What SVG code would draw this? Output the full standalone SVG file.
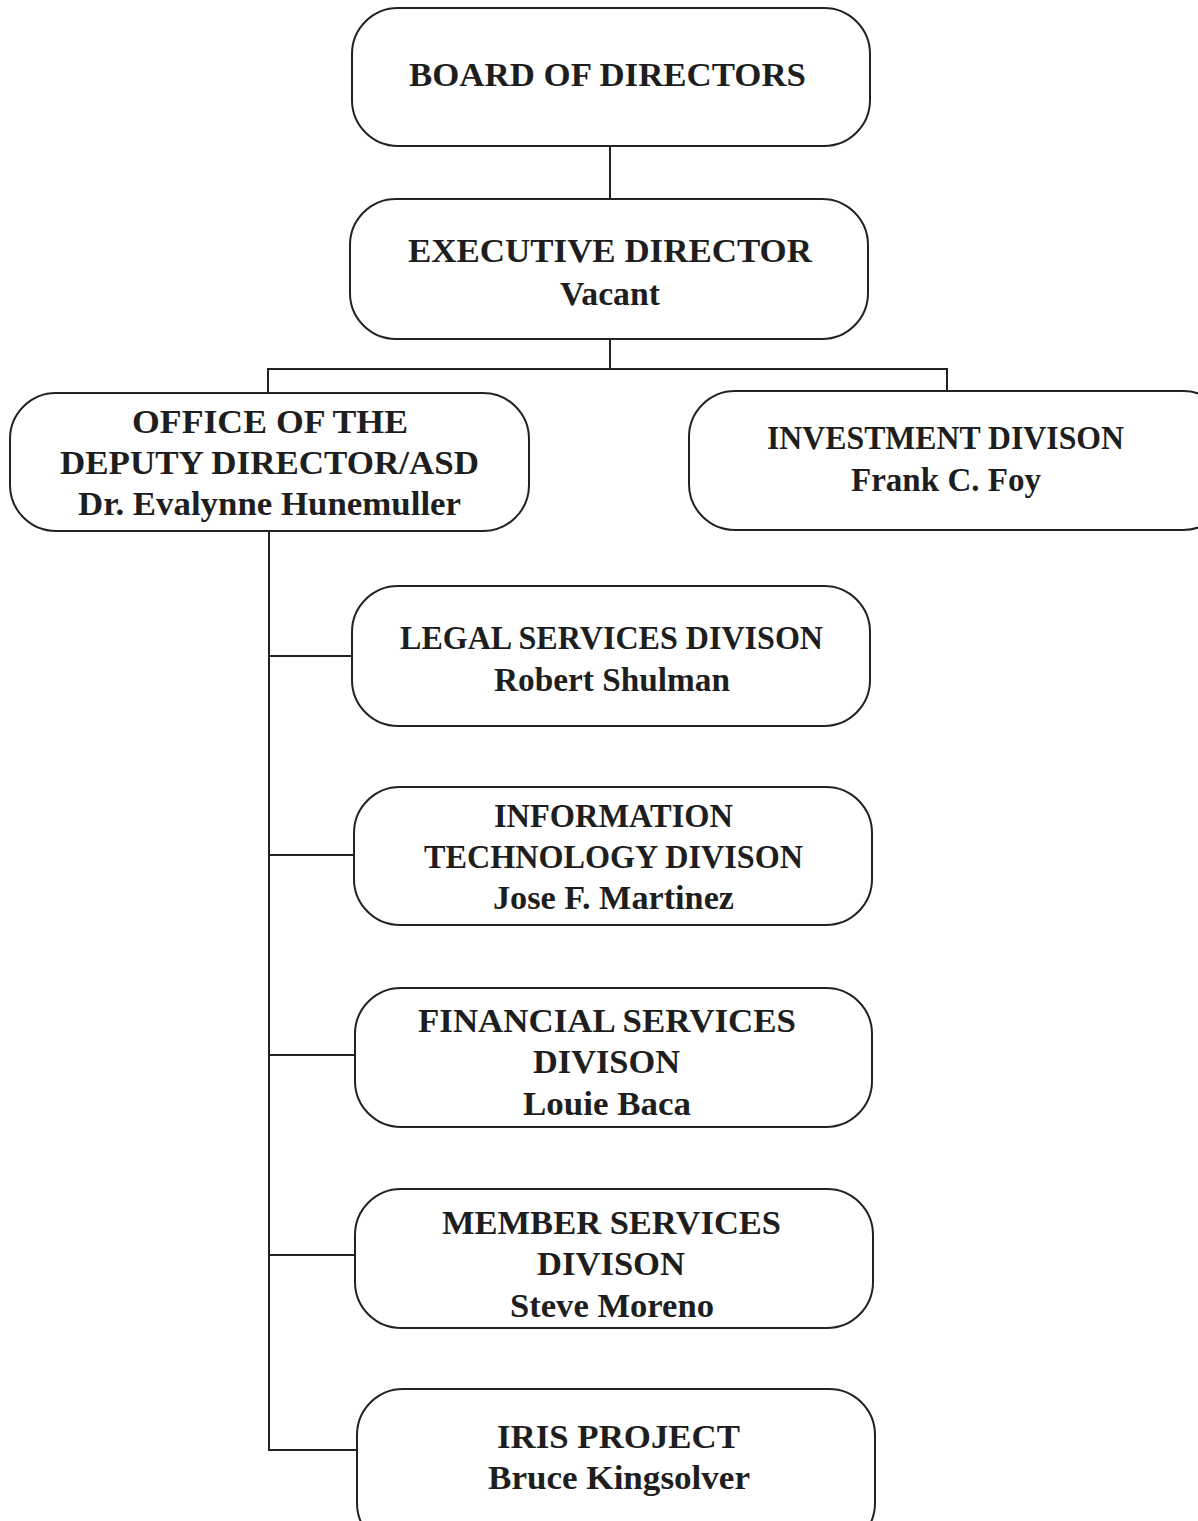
<svg xmlns="http://www.w3.org/2000/svg" width="1198" height="1521" viewBox="0 0 1198 1521">
<style>
.box{fill:#fff;stroke:#222;stroke-width:2}
.ln{fill:none;stroke:#222;stroke-width:2}
text{font-family:"Liberation Serif",Tinos,"Times New Roman",Times,serif;font-weight:700;font-size:34px;fill:#1e1e1e}
</style>
<rect width="1198" height="1521" fill="#fff"/>
<g id="connectors">
<path class="ln" d="M610 146V199M610 339V369M268 393V369H947V392"/>
<path class="ln" d="M269 531V1450H357M269 656H352M269 855H354M269 1055H355M269 1255H355"/>
</g>
<g id="board"><rect class="box" x="352" y="8" width="518" height="138" rx="46"/>
<text x="409" y="86" textLength="397" lengthAdjust="spacingAndGlyphs">BOARD OF DIRECTORS</text></g>
<g id="exec"><rect class="box" x="350" y="199" width="518" height="140" rx="46"/>
<text x="408" y="262" textLength="404" lengthAdjust="spacingAndGlyphs">EXECUTIVE DIRECTOR</text>
<text x="560" y="305" textLength="100" lengthAdjust="spacingAndGlyphs">Vacant</text></g>
<g id="deputy"><rect class="box" x="10" y="393" width="519" height="138" rx="46"/>
<text x="132" y="433" textLength="276" lengthAdjust="spacingAndGlyphs">OFFICE OF THE</text>
<text x="60" y="474" textLength="419" lengthAdjust="spacingAndGlyphs">DEPUTY DIRECTOR/ASD</text>
<text x="78" y="515" textLength="383" lengthAdjust="spacingAndGlyphs">Dr. Evalynne Hunemuller</text></g>
<g id="investment"><rect class="box" x="689" y="391" width="540" height="139" rx="46"/>
<text x="767" y="449" textLength="357" lengthAdjust="spacingAndGlyphs">INVESTMENT DIVISON</text>
<text x="851" y="491" textLength="190" lengthAdjust="spacingAndGlyphs">Frank C. Foy</text></g>
<g id="legal"><rect class="box" x="352" y="586" width="518" height="140" rx="46"/>
<text x="400" y="649" textLength="423" lengthAdjust="spacingAndGlyphs">LEGAL SERVICES DIVISON</text>
<text x="494" y="691" textLength="236" lengthAdjust="spacingAndGlyphs">Robert Shulman</text></g>
<g id="it"><rect class="box" x="354" y="787" width="518" height="138" rx="46"/>
<text x="494" y="827" textLength="239" lengthAdjust="spacingAndGlyphs">INFORMATION</text>
<text x="424" y="868" textLength="379" lengthAdjust="spacingAndGlyphs">TECHNOLOGY DIVISON</text>
<text x="493" y="909" textLength="241" lengthAdjust="spacingAndGlyphs">Jose F. Martinez</text></g>
<g id="financial"><rect class="box" x="355" y="988" width="517" height="139" rx="46"/>
<text x="418" y="1032" textLength="378" lengthAdjust="spacingAndGlyphs">FINANCIAL SERVICES</text>
<text x="533" y="1073" textLength="147" lengthAdjust="spacingAndGlyphs">DIVISON</text>
<text x="523" y="1115" textLength="168" lengthAdjust="spacingAndGlyphs">Louie Baca</text></g>
<g id="member"><rect class="box" x="355" y="1189" width="518" height="139" rx="46"/>
<text x="442" y="1234" textLength="339" lengthAdjust="spacingAndGlyphs">MEMBER SERVICES</text>
<text x="537" y="1275" textLength="148" lengthAdjust="spacingAndGlyphs">DIVISON</text>
<text x="510" y="1317" textLength="204" lengthAdjust="spacingAndGlyphs">Steve Moreno</text></g>
<g id="iris"><rect class="box" x="357" y="1389" width="518" height="160" rx="46"/>
<text x="497" y="1448" textLength="243" lengthAdjust="spacingAndGlyphs">IRIS PROJECT</text>
<text x="488" y="1489" textLength="262" lengthAdjust="spacingAndGlyphs">Bruce Kingsolver</text></g>
</svg>
